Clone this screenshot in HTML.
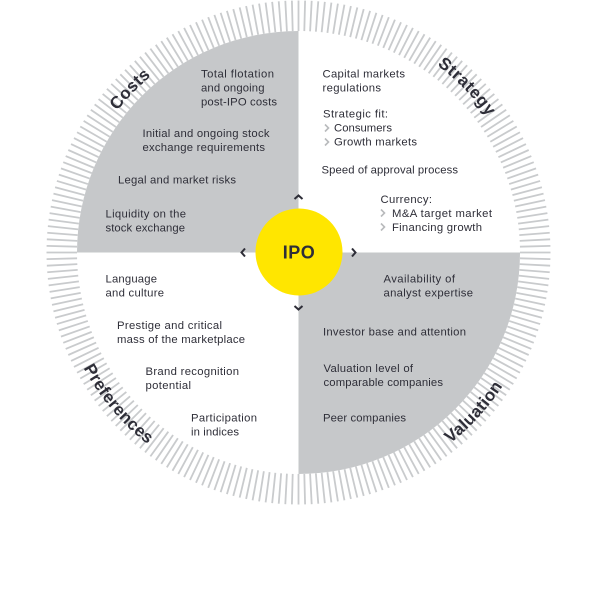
<!DOCTYPE html>
<html><head><meta charset="utf-8">
<style>
html,body{margin:0;padding:0;background:#fff}
svg{display:block}
text{font-family:"Liberation Sans",sans-serif;fill:#2e2e38}
.t text,.t{font-size:11.3px}
.h{font-size:17px;font-weight:bold;letter-spacing:.3px}
</style></head><body>
<svg width="600" height="600" viewBox="0 0 600 600" xmlns="http://www.w3.org/2000/svg">
<defs>
<line id="l" x1="298.5" y1="0.5" x2="298.5" y2="31" stroke="#c9cbcd" stroke-width="1.8"/>
<g id="a"><use href="#l"/><use href="#l" transform="rotate(1.5 298.5 252.5)"/><use href="#l" transform="rotate(3 298.5 252.5)"/><use href="#l" transform="rotate(4.5 298.5 252.5)"/><use href="#l" transform="rotate(6 298.5 252.5)"/></g>
<g id="b"><use href="#a"/><use href="#a" transform="rotate(7.5 298.5 252.5)"/><use href="#a" transform="rotate(15 298.5 252.5)"/><use href="#a" transform="rotate(22.5 298.5 252.5)"/><use href="#a" transform="rotate(30 298.5 252.5)"/><use href="#a" transform="rotate(37.5 298.5 252.5)"/><use href="#a" transform="rotate(45 298.5 252.5)"/><use href="#a" transform="rotate(52.5 298.5 252.5)"/></g>
<path id="pc" d="M68.5 252.5A230 230 0 0 1 298.5 22.500"/>
<path id="ps" d="M298.5 19.500A233 233 0 0 1 531.5 252.5"/>
<path id="pp" d="M54.5 252.5A244 244 0 0 0 298.5 496.5"/>
<path id="pv" d="M298.5 496.5A244 244 0 0 0 542.5 252.5"/>
</defs>
<use href="#b"/><use href="#b" transform="rotate(60 298.5 252.5)"/><use href="#b" transform="rotate(120 298.5 252.5)"/><use href="#b" transform="rotate(180 298.5 252.5)"/><use href="#b" transform="rotate(240 298.5 252.5)"/><use href="#b" transform="rotate(300 298.5 252.5)"/>
<path d="M298.5 252.5H77A221.5 221.5 0 0 1 298.5 31Z" fill="#c6c8ca"/>
<path d="M298.5 252.5H520A221.5 221.5 0 0 1 298.5 474Z" fill="#c6c8ca"/>
<circle cx="299" cy="252" r="43.5" fill="#ffe600"/>
<text x="299" y="258.5" text-anchor="middle" style="font-size:18px;font-weight:bold;letter-spacing:.5px">IPO</text>
<g fill="none" stroke="#2e2e38" stroke-width="2">
<path d="M294.5 199L298.5 195.5L302.5 199"/>
<path d="M294.5 306L298.5 309.5L302.5 306"/>
<path d="M245 248.5L241.5 252.5L245 256.5"/>
<path d="M352 248.5L355.5 252.5L352 256.5"/>
</g>
<g fill="none" stroke="#b8babc" stroke-width="1.6">
<path d="M325 124.500L328.500 128L325 131.500"/>
<path d="M325 138.500L328.500 142L325 145.500"/>
<path d="M381 209.500L384.500 213L381 216.500"/>
<path d="M381 223.500L384.500 227L381 230.500"/>
</g>
<text class="h" text-anchor="middle"><textPath href="#pc" startOffset="49%">Costs</textPath></text>
<text class="h" text-anchor="middle" style="letter-spacing:.6px"><textPath href="#ps" startOffset="50.500%">Strategy</textPath></text>
<text class="h" text-anchor="middle"><textPath href="#pp" startOffset="44.500%">Preferences</textPath></text>
<text class="h" text-anchor="middle"><textPath href="#pv" startOffset="53%">Valuation</textPath></text>
<g class="t">
<text x="201" y="77.500" textLength="73">Total flotation</text>
<text x="201" y="91.500" textLength="63.500">and ongoing</text>
<text x="201" y="105.500" textLength="76">post-IPO costs</text>
<text x="142.500" y="137" textLength="127">Initial and ongoing stock</text>
<text x="142.500" y="151" textLength="122.500">exchange requirements</text>
<text x="118" y="183.500" textLength="118">Legal and market risks</text>
<text x="105.500" y="217.500" textLength="80.500">Liquidity on the</text>
<text x="105.500" y="231.500" textLength="79.500">stock exchange</text>
<text x="322.500" y="77.500" textLength="82.500">Capital markets</text>
<text x="322.500" y="91.500" textLength="58.500">regulations</text>
<text x="323" y="117.500" textLength="65">Strategic fit:</text>
<text x="334" y="131.500" textLength="58">Consumers</text>
<text x="334" y="145.500" textLength="83">Growth markets</text>
<text x="321.500" y="173.500" textLength="136.500">Speed of approval process</text>
<text x="380.500" y="203" textLength="51.500">Currency:</text>
<text x="392" y="217" textLength="100">M&amp;A target market</text>
<text x="392" y="231" textLength="90">Financing growth</text>
<text x="105.500" y="282.500" textLength="51.500">Language</text>
<text x="105.500" y="296.500" textLength="58.500">and culture</text>
<text x="117" y="329" textLength="105">Prestige and critical</text>
<text x="117" y="343" textLength="128">mass of the marketplace</text>
<text x="145.500" y="375" textLength="93.500">Brand recognition</text>
<text x="145.500" y="389" textLength="45.500">potential</text>
<text x="191" y="421.500" textLength="66">Participation</text>
<text x="191" y="435.500" textLength="48">in indices</text>
<text x="383.500" y="282.500" textLength="71.500">Availability of</text>
<text x="383.500" y="296.500" textLength="89.500">analyst expertise</text>
<text x="323" y="335.500" textLength="143">Investor base and attention</text>
<text x="323.500" y="372" textLength="89.500">Valuation level of</text>
<text x="323.500" y="386" textLength="119.500">comparable companies</text>
<text x="323" y="421.500" textLength="83">Peer companies</text>
</g>
</svg>
</body></html>
